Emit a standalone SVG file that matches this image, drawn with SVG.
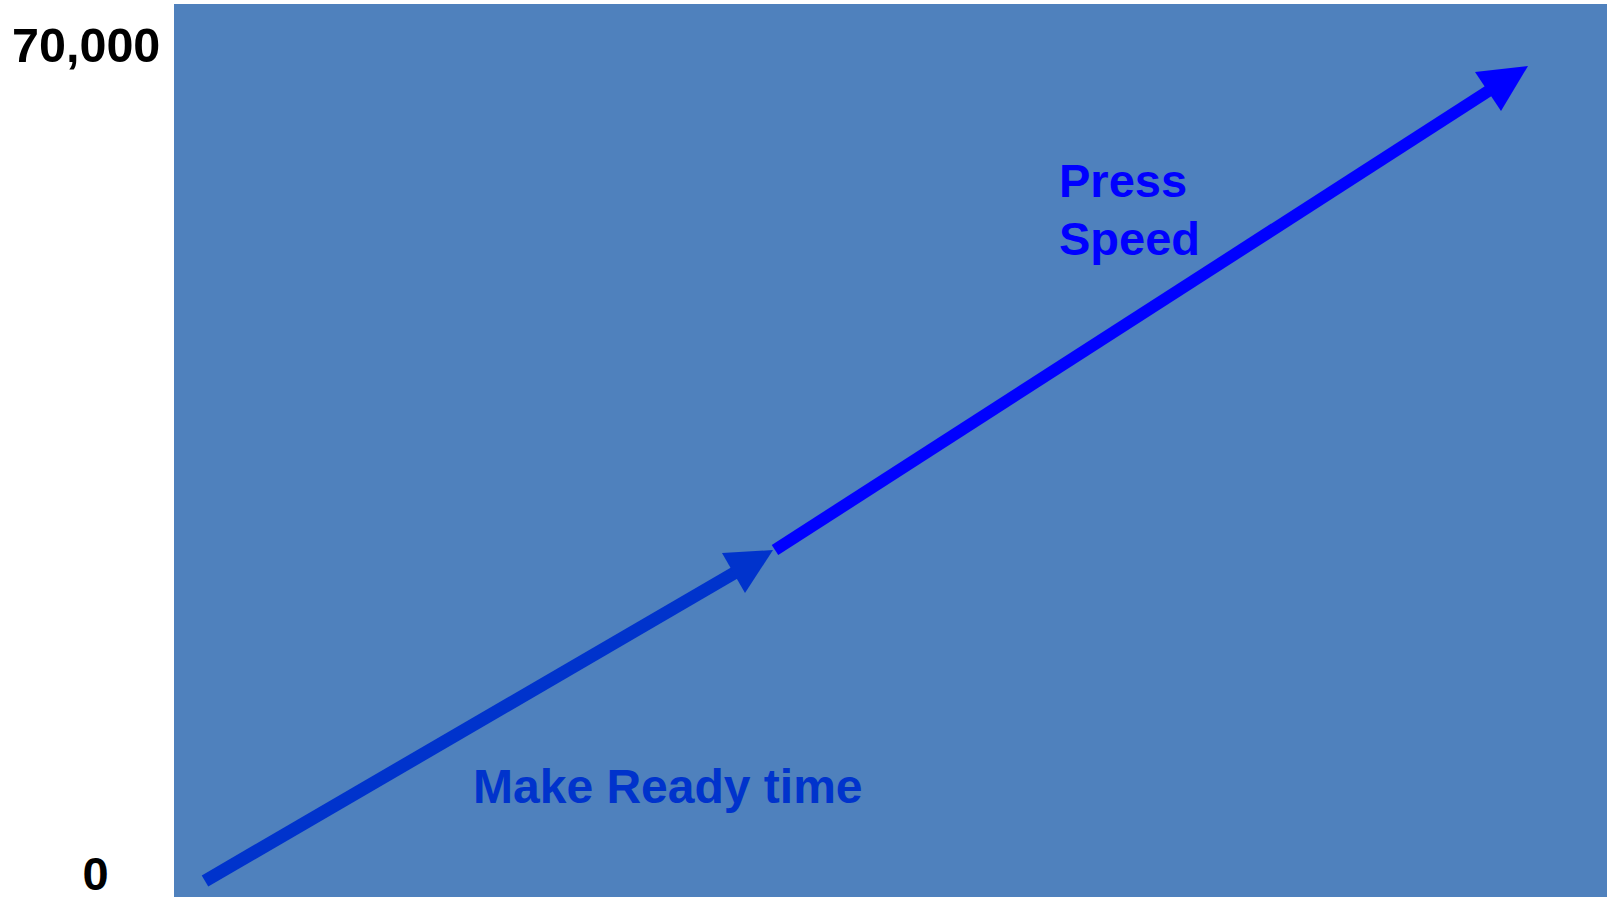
<svg xmlns="http://www.w3.org/2000/svg" width="1607" height="897" viewBox="0 0 1607 897">
<style>
.axis{font-family:"Liberation Sans",Arial,sans-serif;font-weight:bold;fill:#000}
.lbl{font-family:"Liberation Sans",Arial,sans-serif;font-weight:bold}
</style>
<rect width="1607" height="897" fill="#fff"/>
<g id="plot"><rect x="174" y="4" width="1433" height="893" fill="#4F81BD"/></g>
<g id="axis-labels">
<text class="axis" x="12" y="62" font-size="48.5">70,000</text>
<text class="axis" x="95.5" y="890" font-size="47" text-anchor="middle">0</text>
</g>
<g id="connectors">
<line x1="205" y1="881" x2="736" y2="572" stroke="#0033CC" stroke-width="13"/>
<polygon points="773,550 722,553 745,593" fill="#0033CC"/>
<line x1="775" y1="550" x2="1490" y2="90" stroke="#0000FF" stroke-width="12"/>
<polygon points="1528,66 1475,72 1501,111" fill="#0000FF"/>
</g>
<g id="make-ready"><text class="lbl" x="473" y="803" font-size="48" fill="#0033CC">Make Ready time</text></g>
<g id="press-speed"><text class="lbl" x="1059" y="197" font-size="47" fill="#0000FF"><tspan x="1059">Press</tspan><tspan x="1059" y="255">Speed</tspan></text></g>
</svg>
